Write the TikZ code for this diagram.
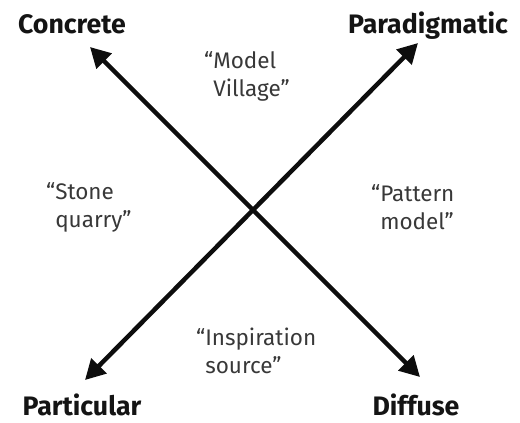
\documentclass[tikz,border=0pt]{standalone}
\usepackage{fontspec}
\setmainfont{Fira Sans}
\usetikzlibrary{arrows.meta}

\begin{document}
\begin{tikzpicture}
\tikzstyle{pole} = [inner sep=0pt, anchor=base, text=black!92, font=\fontsize{19}{22}\selectfont\bfseries]
\tikzstyle{quote} = [inner sep=0pt, anchor=west, align=left, text=black!78, font=\fontsize{16}{19.9}\selectfont]
\tikzstyle{arrow} = [line width=3.2pt, black!95, {Triangle[length=0.5cm, width=0.52cm]}-{Triangle[length=0.5cm, width=0.52cm]}]
\useasboundingbox (0,0) rectangle (13,10.55);
% Nodes
\node (concrete) [pole] at (1.8,9.72) {Concrete};
\node (paradigmatic) [pole] at (10.7,9.72) {Paradigmatic};
\node (particular) [pole] at (2.05,0.16) {Particular};
\node (diffuse) [pole] at (10.4,0.16) {Diffuse};
\node (village) [quote] at (5.325,8.65) {\llap{“}Model\\Village”};
\node (quarry) [quote] at (1.375,5.375) {\llap{“}Stone\\quarry”};
\node (pattern) [quote] at (9.5,5.375) {\llap{“}Pattern\\model”};
\node (source) [quote] at (5.125,1.775) {\llap{“}Inspiration\\source”};
\coordinate (tipC) at (2.25,9.375);
\coordinate (tipP) at (10.45,9.475);
\coordinate (tipPa) at (2.125,1.05);
\coordinate (tipD) at (10.5,1.125);

% Arrows
\draw [arrow] (tipC) -- (tipD);
\draw [arrow] (tipPa) -- (tipP);
\end{tikzpicture}
\end{document}
